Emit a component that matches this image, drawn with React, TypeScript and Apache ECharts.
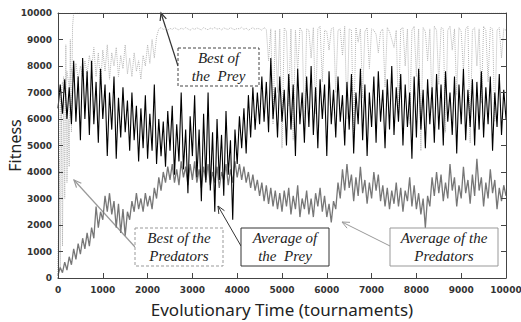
import React, { useEffect, useRef } from "react";
import * as echarts from "echarts";

const STEP = 50;

const avgPrey = [
  6400, 7300, 6200, 7500, 6000, 7200, 5800, 8200, 5900, 7600,
  5200, 8300, 6000, 7800, 5400, 8200, 5800, 7400, 5100, 7900,
  6000, 7300, 4600, 7000, 5600, 7600, 4500, 6800, 5300, 7200,
  5500, 6700, 4800, 7000, 5200, 6500, 4400, 6400, 4900, 6900,
  4500, 6200, 4800, 7300, 4300, 6000, 4600, 5900, 4200, 6300,
  4800, 6500, 3900, 5800, 4400, 7000, 4100, 5600, 3200, 6100,
  4600, 6900, 3800, 5600, 2900, 6200, 3600, 7000, 3300, 5500,
  2500, 6000, 3700, 5400, 3100, 6300, 3900, 5200, 2200, 5600,
  4300, 6100, 4900, 6400, 4700, 6900, 5300, 7200, 5600, 7000,
  5800, 7600, 5900, 7400, 5500, 8300, 6000, 7200, 5300, 7600,
  5900, 7100, 5000, 7700, 5600, 7300, 4600, 7900, 5800, 7000,
  5100, 7600, 5700, 8000, 5400, 7200, 4900, 7500, 6000, 7300,
  4600, 7800, 5800, 7100, 5300, 7600, 5900, 6900, 5000, 7400,
  5600, 7700, 4700, 7000, 5800, 7900, 5200, 7300, 4600, 7000,
  5700, 7600, 5100, 7800, 5900, 7100, 4900, 7500, 5600, 8000,
  5400, 7200, 5900, 7700, 5000, 7300, 5700, 7000, 4500, 7600,
  5300, 7900, 5600, 7100, 4900, 7500, 5800, 7200, 5100, 7700,
  5600, 7300, 5000, 7800, 5900, 7000, 5400, 7600, 4700, 7300,
  5800, 7900, 5200, 7100, 5700, 7500, 5000, 7400, 5600, 7800,
  5300, 7200, 5800, 7600, 4800, 7000, 5700, 7700, 5400, 7100,
  6000,
];

const avgPredators = [
  100, 400, 200, 600, 300, 800, 500, 1100, 700, 1300,
  900, 1500, 1100, 1700, 1200, 1900, 1500, 2700, 1900, 2500,
  2200, 3100, 2500, 3200, 2400, 2900, 1900, 2800, 1700, 2600,
  1600, 2500, 2200, 2900, 2500, 3200, 2600, 3000, 2500, 3200,
  2700, 3100, 2600, 3400, 3000, 3800, 3300, 4000, 3600, 4200,
  3700, 4300, 3600, 4100, 3500, 4400, 3800, 4200, 3500, 4300,
  3700, 4400, 3600, 4100, 3400, 4200, 3700, 4300, 3500, 4000,
  3600, 4200, 3400, 4000, 3700, 4300, 3500, 4100, 3600, 4400,
  3800, 4300, 3700, 4200, 3600, 4000, 3400, 3900, 3300, 3700,
  3100, 3600, 2900, 3500, 2800, 3400, 2700, 3300, 2600, 3200,
  2500, 3300, 2700, 3400, 2400, 3100, 2600, 3500, 2300, 3000,
  2600, 3300, 2400, 3000, 2300, 3200, 2700, 3400, 2500, 3100,
  2300, 2800, 2100, 2900, 2600, 3600, 3000, 4100, 3300, 4300,
  3400, 3900, 2900, 3800, 3100, 4200, 3200, 3700, 2800, 3600,
  3000, 4000, 3300, 3900, 2900, 3500, 2700, 3400, 2600, 3300,
  2800, 3600, 2700, 3400, 2500, 3300, 2900, 3800, 2700, 3500,
  2600, 3200, 2400, 3000, 1900, 3100, 2700, 3800, 3100, 4000,
  3200, 3900, 2900, 3600, 3000, 4300, 3300, 3800, 2700, 3500,
  3000, 4200, 3200, 3700, 2800, 3900, 3100, 4500, 3300, 3800,
  2700, 3600, 3000, 4100, 3200, 3700, 2600, 3400, 2900, 3500,
  3100,
];

const bestPrey = [
  0, 6500, 7400, 7000, 7800, 7200, 7900, 7400, 8100, 7500,
  8000, 7600, 8200, 7700, 8400, 7900, 8700, 7600, 8500, 7300,
  8600, 7800, 8800, 7500, 8500, 8000, 8700, 7600, 8400, 7900,
  8800, 7700, 8300, 7600, 8500, 7800, 8200, 7500, 8400, 8000,
  8800, 8100, 9000, 8300, 9100, 9400, 9450, 9380, 9420, 9350,
  9420, 9380, 9450, 9400, 9360, 9430, 9390, 9450, 9400, 9350,
  9420, 9380, 9440, 9400, 9360, 9450, 9400, 9370, 9430, 9400,
  9450, 9390, 9420, 9360, 9440, 9400, 9380, 9450, 9400, 9370,
  9420, 9400, 9460, 9380, 9430, 9350, 9400, 9450, 9380, 9420,
  9400, 9350, 9450, 9380, 8200, 9400, 5800, 9350, 7000, 9400,
  4900, 9450, 9300, 6500, 9400, 5200, 9350, 7800, 9450, 9300,
  5600, 9400, 9350, 8300, 9450, 6200, 9400, 9500, 7400, 9350,
  9300, 8600, 9400, 9450, 7000, 9350, 9400, 8400, 9500, 6000,
  9400, 9350, 5300, 9450, 8900, 9400, 6800, 9300, 9450, 7900,
  9400, 9350, 9200, 8500, 9300, 9400, 7200, 9450, 9300, 9000,
  8700, 9350, 6100, 9400, 9450, 8000, 9400, 5800, 9350, 9500,
  7600, 9400, 4800, 9450, 9300, 8200, 9400, 6400, 9500, 9350,
  7300, 9450, 9400, 5500, 9350, 9500, 8600, 9400, 6900, 9450,
  9300, 7800, 9400, 9500, 5100, 9350, 9450, 8000, 9400, 6600,
  9500, 9350, 7400, 9450, 9400, 5900, 9350, 9450, 8300, 9400,
  9350,
];

const bestPredTimes = [0, 25, 50, 75, 100, 125, 150, 175, 200, 225, 250, 275, 300, 325, 350, 10000];
const bestPredValues = [0, 4500, 300, 6800, 1200, 7600, 3000, 8800, 3600, 6000, 4200, 9000, 5500, 9500, 10000, 10000];

const toPairs = (vals: number[]) => vals.map((v, i) => [i * STEP, v]);

function arrow(x1: number, y1: number, x2: number, y2: number, color: string, w: number) {
  const ang = Math.atan2(y2 - y1, x2 - x1);
  const L = 8;
  const a = 0.42;
  const p1 = [x2 - L * Math.cos(ang - a), y2 - L * Math.sin(ang - a)];
  const p2 = [x2 - L * Math.cos(ang + a), y2 - L * Math.sin(ang + a)];
  return {
    type: "group",
    z: 100,
    children: [
      { type: "line", shape: { x1, y1, x2, y2 }, style: { stroke: color, lineWidth: w } },
      { type: "polyline", shape: { points: [p1, [x2, y2], p2] }, style: { stroke: color, lineWidth: w, fill: null } },
    ],
  };
}

function box(x: number, y: number, w: number, h: number, lines: string[], border: string, dashed: boolean) {
  return {
    type: "group",
    z: 100,
    children: [
      {
        type: "rect",
        shape: { x, y, width: w, height: h },
        style: { fill: "#fff", stroke: border, lineWidth: 1, lineDash: dashed ? [3, 2] : null },
      },
      {
        type: "text",
        style: {
          x: x + w / 2,
          y: y + h / 2,
          text: lines.join("\n"),
          align: "center",
          verticalAlign: "middle",
          font: "italic 15px 'Liberation Serif', 'DejaVu Serif', serif",
          fill: "#222",
          lineHeight: 18,
        },
      },
    ],
  };
}

export default function App() {
  const ref = useRef<HTMLDivElement>(null);
  useEffect(() => {
    if (!ref.current) return;
    const chart = echarts.init(ref.current, null, { renderer: "svg" });
    const axisLine = { show: true, onZero: false, lineStyle: { color: "#444", width: 1 } };
    const tickLabel = {
      fontFamily: "DejaVu Sans",
      fontSize: 9,
      fontWeight: "bold" as const,
      color: "#333",
      formatter: (v: number) => String(v),
    };
    const tick = { inside: true, length: 5, lineStyle: { color: "#444" } };
    chart.setOption({
      animation: false,
      backgroundColor: "#fff",
      grid: { left: 58, top: 13, right: 15, bottom: 44, containLabel: false, outerBoundsMode: "none" },
      xAxis: [
        {
          type: "value",
          min: 0,
          max: 10000,
          interval: 1000,
          z: 5,
          axisLine,
          axisTick: tick,
          splitLine: { show: false },
          axisLabel: { ...tickLabel, margin: 7 },
          name: "Evolutionary Time (tournaments)",
          nameLocation: "middle",
          nameGap: 22,
          nameMoveOverlap: false,
          nameTextStyle: { fontFamily: "Noto Sans", fontSize: 17, color: "#222", lineHeight: 18 },
        },
        {
          type: "value",
          position: "top",
          min: 0,
          max: 10000,
          interval: 1000,
          z: 5,
          axisLine,
          axisTick: tick,
          splitLine: { show: false },
          axisLabel: { show: false },
        },
      ],
      yAxis: [
        {
          type: "value",
          min: 0,
          max: 10000,
          interval: 1000,
          z: 5,
          axisLine,
          axisTick: tick,
          splitLine: { show: false },
          axisLabel: { ...tickLabel, margin: 6 },
          name: "Fitness",
          nameLocation: "middle",
          nameGap: 35,
          nameMoveOverlap: false,
          nameTextStyle: { fontFamily: "Noto Sans", fontSize: 16, color: "#222" },
        },
        {
          type: "value",
          position: "right",
          min: 0,
          max: 10000,
          interval: 1000,
          z: 5,
          axisLine,
          axisTick: tick,
          splitLine: { show: false },
          axisLabel: { show: false },
        },
      ],
      series: [
        {
          name: "Best of the Predators",
          type: "line",
          data: bestPredTimes.map((t, i) => [t, bestPredValues[i]]),
          showSymbol: false,
          lineStyle: { color: "#b5b5b5", width: 1, type: "dotted" },
          z: 1,
        },
        {
          name: "Best of the Prey",
          type: "line",
          data: toPairs(bestPrey),
          showSymbol: false,
          lineStyle: { color: "#b5b5b5", width: 1, type: "dotted" },
          z: 1,
        },
        {
          name: "Average of the Predators",
          type: "line",
          data: toPairs(avgPredators),
          showSymbol: false,
          lineStyle: { color: "#777", width: 1.3 },
          z: 2,
        },
        {
          name: "Average of the Prey",
          type: "line",
          data: toPairs(avgPrey),
          showSymbol: false,
          lineStyle: { color: "#000", width: 1.1 },
          z: 3,
        },
      ],
      graphic: [
        arrow(178, 66, 161, 13, "#333", 1.2),
        arrow(135, 247, 74, 180, "#999", 1.2),
        arrow(241, 246, 218, 206, "#333", 1),
        arrow(390, 246, 342, 222, "#999", 1),
        box(178, 48, 81, 38, ["Best of", "the  Prey"], "#444", true),
        box(135, 228, 88, 38, ["Best of the", "Predators"], "#999", true),
        box(241, 228, 88, 38, ["Average of", "the  Prey"], "#333", false),
        box(390, 228, 108, 38, ["Average of the", "Predators"], "#999", false),
      ],
    });
    return () => chart.dispose();
  }, []);
  return <div ref={ref} style={{ position: "fixed", left: 0, top: 0, width: 521, height: 322 }} />;
}
